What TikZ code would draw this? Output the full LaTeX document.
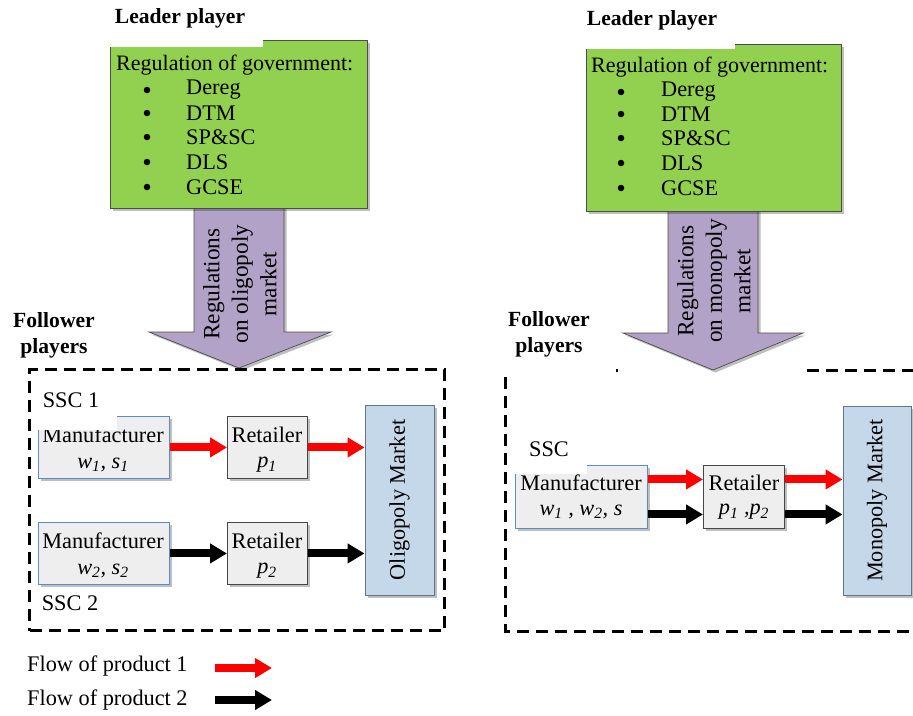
\documentclass[tikz,border=0pt]{standalone}
\usepackage{fontspec}
\setmainfont{Liberation Serif}
\usetikzlibrary{arrows.meta,shadows}
\definecolor{gfill}{RGB}{146,208,80}
\definecolor{pfill}{RGB}{178,162,199}
\definecolor{bfill}{RGB}{197,216,234}
\definecolor{bdraw}{RGB}{100,115,135}
\definecolor{mblue}{RGB}{90,140,200}
\definecolor{boxfill}{RGB}{238,238,238}
\begin{document}
\begin{tikzpicture}[x=1pt,y=-1pt,
  font=\fontsize{22.3}{25}\selectfont,
  sh/.style={drop shadow={shadow xshift=2.5pt,shadow yshift=-2.5pt,opacity=0.25,fill=black}},
  govbox/.style={draw=gray!60!black,line width=0.8pt,fill=gfill,sh,minimum width=257pt,minimum height=168pt,anchor=north west,inner sep=0pt},
  bigarrow/.style={fill=pfill,draw=gray!60!black,line width=0.7pt,sh},
  manbox/.style={draw=mblue,line width=0.9pt,fill=boxfill,sh,minimum width=131pt,minimum height=62pt,anchor=north west,inner sep=0pt},
  retbox/.style={draw=gray!55!black,line width=0.9pt,fill=boxfill,sh,minimum width=80pt,minimum height=62pt,anchor=north west,inner sep=0pt},
  mktbox/.style={draw=bdraw,line width=0.9pt,fill=bfill,sh,inner sep=0pt},
  dashbox/.style={line width=3pt,dash pattern=on 12pt off 7pt},
  flowa/.style={-{Triangle[length=17pt,width=19pt]},line width=8pt,red},
  flowb/.style={-{Triangle[length=17pt,width=19pt]},line width=8pt,black},
  txt/.style={inner sep=0pt,anchor=west},
  ctxt/.style={inner sep=0pt},
  ttl/.style={inner sep=0pt,font=\fontsize{21.6}{26}\selectfont\bfseries,align=center},
  blt/.style={circle,fill=black,inner sep=0pt,minimum size=6.5pt},
  rtxt/.style={inner sep=0pt,rotate=90,align=center,font=\fontsize{23.3}{28.5}\selectfont},
  htxt/.style={inner sep=0pt,anchor=west,font=\fontsize{22}{25}\selectfont}
]
\useasboundingbox (0,0) rectangle (913,715);

% ---------------- LEFT ----------------
\fill[bigarrow] (194,200) -- (284,200) -- (284,332) -- (331,332) -- (239,368) -- (149,332) -- (194,332) -- cycle;
\node[rtxt] (ra1) at (240,284) {Regulations\\on oligopoly\\market};
\node[govbox] (g1) at (110,40) {};
\fill[white] (106,36) rectangle (263,47);
\node[ttl] (l1) at (180,18) {Leader player};
\node[htxt] (h1) at (116,65) {Regulation of government:};
\foreach \y/\t/\n in {90/Dereg/a,113/DTM/b,137/SP\&SC/c,162/DLS/d,187/GCSE/e}{
  \node[blt] (b1\n) at (147,\y) {};
  \node[txt] (t1\n) at (186,\y) {\t};
}
\node[ttl] (f1) at (54,335) {Follower\\players};
\node[dashbox,draw,minimum width=415pt,minimum height=261pt,anchor=north west,inner sep=0pt] (d1) at (28,368) {};

\node[manbox] (m1) at (38,416) {};
\node[ctxt] (m1a) at (103,435) {Manufacturer};
\node[ctxt] (m1b) at (103,465) {\textit{w\textsubscript{1}, s\textsubscript{1}}};
\fill[white] (35,386) rectangle (117,430);
\node[ctxt] (s1) at (71,400) {SSC 1};
\node[retbox] (r1) at (227,416) {};
\node[ctxt] (r1a) at (267,435) {Retailer};
\node[ctxt] (r1b) at (267,465) {\textit{p\textsubscript{1}}};

\node[manbox] (m2) at (38,522) {};
\node[ctxt] (m2a) at (103,541) {Manufacturer};
\node[ctxt] (m2b) at (103,571) {\textit{w\textsubscript{2}, s\textsubscript{2}}};
\node[retbox] (r2) at (227,522) {};
\node[ctxt] (r2a) at (267,541) {Retailer};
\node[ctxt] (r2b) at (267,571) {\textit{p\textsubscript{2}}};
\node[ctxt] (s2) at (70,603) {SSC 2};

\node[mktbox,minimum width=69pt,minimum height=190pt] (k1) at (399.5,500) {\rotatebox{90}{Oligopoly Market}};

\draw[flowa] (m1) -- (r1);
\draw[flowa] (r1.east) -- (r1.east -| k1.west);
\draw[flowb] (m2) -- (r2);
\draw[flowb] (r2.east) -- (r2.east -| k1.west);

% ---------------- RIGHT ----------------
\fill[bigarrow] (668,200) -- (758,200) -- (758,333) -- (803,333) -- (713,370) -- (623,333) -- (668,333) -- cycle;
\node[rtxt] (ra2) at (714,281) {Regulations\\on monopoly\\market};
\node[govbox,minimum width=255pt,minimum height=167pt] (g2) at (586,44) {};
\fill[white] (582,40) rectangle (735,49);
\node[ttl] (l2) at (652,20) {Leader player};
\node[htxt] (h2) at (591,67) {Regulation of government:};
\foreach \y/\t/\n in {92/Dereg/a,114/DTM/b,138/SP\&SC/c,163/DLS/d,188/GCSE/e}{
  \node[blt] (b2\n) at (621,\y) {};
  \node[txt] (t2\n) at (661,\y) {\t};
}
\node[ttl] (f2) at (549,334) {Follower\\players};
\draw[line width=3pt] (616,370) -- (618,370);
\draw[dashbox] (807,370) -- (925,370);
\draw[dashbox] (505,377) -- (505,631) -- (925,631);

\node[manbox,minimum width=132pt,minimum height=63pt] (m3) at (515,465) {};
\node[ctxt] (m3a) at (581,483) {Manufacturer};
\node[ctxt] (m3b) at (581,512) {\textit{w\textsubscript{1} , w\textsubscript{2}, s}};
\fill[white] (512,440) rectangle (587,474);
\node[ctxt] (s3) at (549,449) {SSC};
\node[retbox,minimum width=81pt,minimum height=63pt] (r3) at (703,465) {};
\node[ctxt] (r3a) at (744,483) {Retailer};
\node[ctxt] (r3b) at (744,512) {\textit{p\textsubscript{1} ,p\textsubscript{2}}};
\node[mktbox,minimum width=68pt,minimum height=189pt] (k2) at (877,500.5) {\rotatebox{90}{Monopoly Market}};

\coordinate (m3u) at ([yshift=17.5pt]m3.east);
\coordinate (m3d) at ([yshift=-17.5pt]m3.east);
\coordinate (r3u) at ([yshift=17.5pt]r3.east);
\coordinate (r3d) at ([yshift=-17.5pt]r3.east);
\draw[flowa] (m3u) -- (m3u -| r3.west);
\draw[flowb] (m3d) -- (m3d -| r3.west);
\draw[flowa] (r3u) -- (r3u -| k2.west);
\draw[flowb] (r3d) -- (r3d -| k2.west);

% ---------------- LEGEND ----------------
\node[txt] (lg1) at (27,666) {Flow of product 1};
\node[txt] (lg2) at (27,700) {Flow of product 2};
\coordinate (la1) at (215,668);
\coordinate (la2) at (272,668);
\coordinate (lb1) at (215,700);
\coordinate (lb2) at (272,700);
\draw[flowa] (la1) -- (la2);
\draw[flowb] (lb1) -- (lb2);
\end{tikzpicture}
\end{document}
